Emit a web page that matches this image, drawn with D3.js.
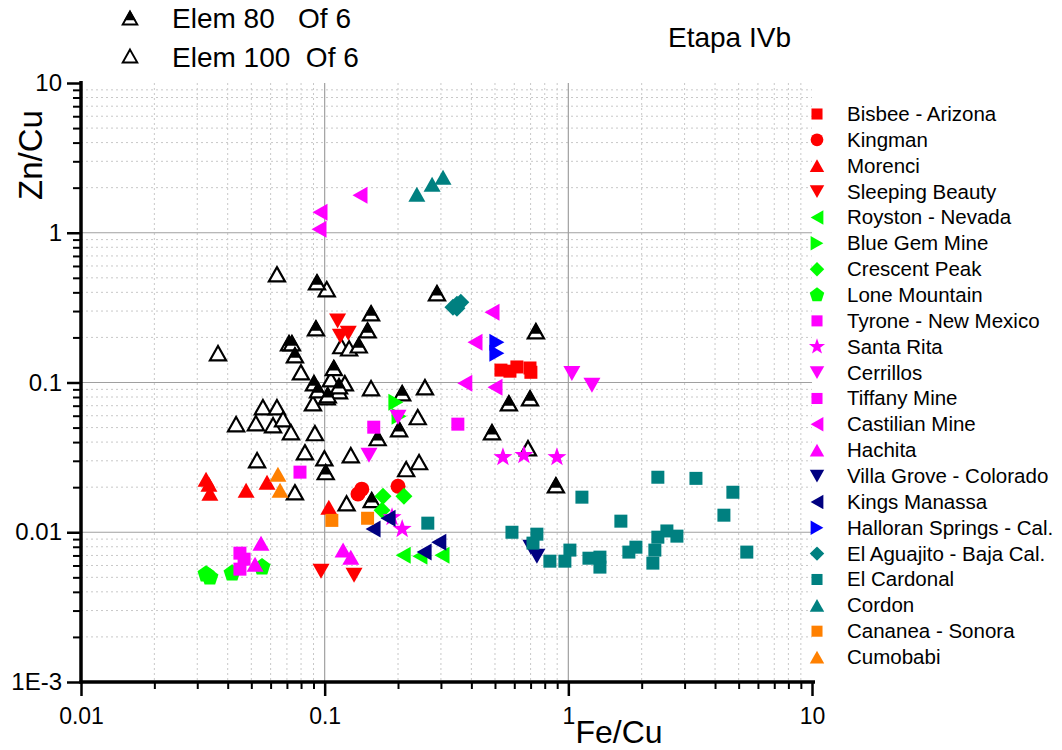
<!DOCTYPE html>
<html>
<head>
<meta charset="utf-8">
<title>Etapa IVb</title>
<script src="https://d3js.org/d3.v7.min.js"></script>
<style>
  body { margin: 0; background: #fff; }
  svg text { font-family: "Liberation Sans", Arial, sans-serif; fill: #000; }
</style>
</head>
<body>
<svg id="chart" width="1062" height="750"></svg>
<script>
// valores: [Fe/Cu, Zn/Cu]
var bisbee = [[0.529,0.121],[0.576,0.119],[0.615,0.127],[0.696,0.125],[0.702,0.117]];
var kingman = [[0.137,0.018],[0.142,0.0194],[0.200,0.0203]];
var morenci = [[0.0326,0.0226],[0.0335,0.0209],[0.0338,0.0182],[0.0476,0.0191],[0.058,0.0216],[0.104,0.0147]];
var sleeping = [[0.113,0.257],[0.116,0.204],[0.125,0.213],[0.0966,0.0055],[0.132,0.00517]];
var royston = [[0.21,0.00703],[0.246,0.00692],[0.303,0.00703]];
var blueGem = [[0.196,0.0739],[0.202,0.0596]];
var crescent = [[0.1735,0.0174],[0.2115,0.0174],[0.172,0.0140]];
var loneMtn = [[0.0326,0.00525],[0.0338,0.00501],[0.0417,0.00533],[0.0553,0.00585]];
var tyrone = [[0.159,0.0503],[0.352,0.0527],[0.0792,0.0252]];
var santaRita = [[0.539,0.0317],[0.657,0.0327],[0.898,0.0317],[0.208,0.0105],[0.189,0.0126]];
var cerrillos = [[1.034,0.115],[1.25,0.0959],[0.200,0.0587],[0.152,0.0327]];
var tiffany = [[0.0449,0.00725],[0.0467,0.00661],[0.0449,0.00567]];
var castilian = [[0.0948,1.055],[0.0957,1.37],[0.1396,1.78],[0.486,0.295],[0.414,0.186],[0.376,0.0989],[0.50,0.093]];
var hachita = [[0.0548,0.00846],[0.0518,0.00612],[0.119,0.0076],[0.128,0.00682]];
var villaGrove = [[0.702,0.00795],[0.743,0.00692]];
var kings = [[0.158,0.0105],[0.182,0.0124],[0.256,0.00737],[0.294,0.00859]];
var halloran = [[0.509,0.186],[0.509,0.157]];
var aguajito = [[0.336,0.318],[0.349,0.333],[0.362,0.344],[0.349,0.313]];
var cardonal = [[0.265,0.0115],[0.587,0.0100],[0.743,0.00971],[0.716,0.00846],[0.84,0.00641],
  [0.968,0.00641],[1.015,0.0076],[1.137,0.01715],[1.215,0.00671],[1.348,0.00682],[1.348,0.00585],
  [1.643,0.01186],[1.772,0.00737],[1.894,0.00795],[2.223,0.00622],[2.265,0.0076],[2.33,0.00927],
  [2.33,0.0233],[2.538,0.0102],[2.79,0.00942],[3.34,0.0229],[4.35,0.0130],[4.735,0.0185],[5.40,0.00737]];
var cordon = [[0.239,1.81],[0.276,2.11],[0.306,2.35]];
var cananea = [[0.107,0.0120],[0.150,0.0124]];
var cumobabi = [[0.0643,0.0244],[0.0656,0.0191]];

var elem80 = [[0.093,0.467],[0.0921,0.230],[0.0714,0.183],[0.0734,0.183],[0.0755,0.152],[0.109,0.125],
  [0.0904,0.0989],[0.0939,0.0888],[0.103,0.0823],[0.1145,0.0945],[0.138,0.177],[0.150,0.223],
  [0.155,0.290],[0.289,0.395],[0.736,0.220],[0.208,0.0848],[0.570,0.0727],[0.696,0.0785],
  [0.486,0.0466],[0.165,0.0425],[0.202,0.0488],[0.101,0.0252],[0.156,0.0164],[0.889,0.0206]];
var elem100 = [[0.0637,0.528],[0.102,0.42],[0.0365,0.157],[0.0799,0.117],[0.106,0.105],[0.121,0.0989],
  [0.1145,0.0875],[0.117,0.175],[0.126,0.169],[0.155,0.0916],[0.258,0.093],[0.0895,0.0727],
  [0.102,0.0798],[0.0558,0.0684],[0.0637,0.0684],[0.0433,0.0527],[0.0522,0.0535],[0.0614,0.0519],
  [0.0675,0.0569],[0.0727,0.0466],[0.0912,0.0459],[0.083,0.0342],[0.0997,0.0312],[0.128,0.0327],
  [0.0528,0.0303],[0.0755,0.0185],[0.123,0.0156],[0.241,0.0587],[0.216,0.0264],[0.244,0.0294],[0.683,0.0364]];

var xTicks = [0.01, 0.1, 1, 10];
var xTickLabels = ["0.01", "0.1", "1", "10"];
var yTicks = [0.001, 0.01, 0.1, 1, 10];
var yTickLabels = ["1E-3", "0.01", "0.1", "1", "10"];

var series = [
  {nome: "Bisbee - Arizona", cor: "#ff0000", forma: "square", dados: bisbee},
  {nome: "Kingman", cor: "#ff0000", forma: "circle", dados: kingman},
  {nome: "Morenci", cor: "#ff0000", forma: "up", dados: morenci},
  {nome: "Sleeping Beauty", cor: "#ff0000", forma: "down", dados: sleeping},
  {nome: "Royston - Nevada", cor: "#00ff00", forma: "left", dados: royston},
  {nome: "Blue Gem Mine", cor: "#00ff00", forma: "right", dados: blueGem},
  {nome: "Crescent Peak", cor: "#00ff00", forma: "diamond", dados: crescent},
  {nome: "Lone Mountain", cor: "#00ff00", forma: "pentagon", dados: loneMtn},
  {nome: "Tyrone - New Mexico", cor: "#ff00ff", forma: "square", dados: tyrone},
  {nome: "Santa Rita", cor: "#ff00ff", forma: "star", dados: santaRita},
  {nome: "Cerrillos", cor: "#ff00ff", forma: "down", dados: cerrillos},
  {nome: "Tiffany Mine", cor: "#ff00ff", forma: "square", dados: tiffany},
  {nome: "Castilian Mine", cor: "#ff00ff", forma: "left", dados: castilian},
  {nome: "Hachita", cor: "#ff00ff", forma: "up", dados: hachita},
  {nome: "Villa Grove - Colorado", cor: "#000080", forma: "down", dados: villaGrove},
  {nome: "Kings Manassa", cor: "#000080", forma: "left", dados: kings},
  {nome: "Halloran Springs - Cal.", cor: "#0000ff", forma: "right", dados: halloran},
  {nome: "El Aguajito - Baja Cal.", cor: "#008080", forma: "diamond", dados: aguajito},
  {nome: "El Cardonal", cor: "#008080", forma: "square", dados: cardonal},
  {nome: "Cordon", cor: "#008080", forma: "up", dados: cordon},
  {nome: "Cananea - Sonora", cor: "#ff8000", forma: "square", dados: cananea},
  {nome: "Cumobabi", cor: "#ff8000", forma: "up", dados: cumobabi}
];

var svg = d3.select("#chart");
var x = d3.scaleLog().domain([0.01, 10]).range([81, 812]);
var y = d3.scaleLog().domain([0.001, 10]).range([682, 83]);

// formas dos marcadores, centradas em 0,0 (k = escala)
function forma(tipo, k) {
  var w = 17 * k, h = 15 * k, s = 13 * k;
  switch (tipo) {
    case "square": return "M" + (-s/2) + "," + (-s/2) + "h" + s + "v" + s + "h" + (-s) + "Z";
    case "circle": var r = 7.5 * k; return "M" + (-r) + ",0a" + r + "," + r + " 0 1,0 " + (2*r) + ",0a" + r + "," + r + " 0 1,0 " + (-2*r) + ",0Z";
    case "up": return "M0," + (-h/2) + "L" + (w/2) + "," + (h/2) + "L" + (-w/2) + "," + (h/2) + "Z";
    case "down": return "M0," + (h/2) + "L" + (w/2) + "," + (-h/2) + "L" + (-w/2) + "," + (-h/2) + "Z";
    case "left": return "M" + (-h/2) + ",0L" + (h/2) + "," + (-w/2) + "L" + (h/2) + "," + (w/2) + "Z";
    case "right": return "M" + (h/2) + ",0L" + (-h/2) + "," + (-w/2) + "L" + (-h/2) + "," + (w/2) + "Z";
    case "diamond": var d = 8.5 * k; return "M0," + (-d) + "L" + d + ",0L0," + d + "L" + (-d) + ",0Z";
    case "pentagon":
      var r5 = 9 * k;
      return d3.range(5).map(function(i) {
        var a = -Math.PI / 2 + i * 2 * Math.PI / 5;
        return (i ? "L" : "M") + (r5 * Math.cos(a)) + "," + (r5 * Math.sin(a));
      }).join("") + "Z";
    case "star":
      var ro = 10 * k, ri = 4 * k;
      return d3.range(10).map(function(i) {
        var a = -Math.PI / 2 + i * Math.PI / 5, r = i % 2 ? ri : ro;
        return (i ? "L" : "M") + (r * Math.cos(a)) + "," + (r * Math.sin(a));
      }).join("") + "Z";
  }
}
// parte de cima preenchida do triângulo "Elem 80"
function topoTriangulo(k) {
  var w = 16 * k, h = 14 * k, f = 0.62;
  return "M0," + (-h/2) + "L" + (w/2*f) + "," + (-h/2 + h*f) + "L" + (-w/2*f) + "," + (-h/2 + h*f) + "Z";
}

// grade secundária (pontilhada)
var minX = [], minY = [];
[0.01, 0.1, 1].forEach(function(b) { for (var i = 2; i <= 9; i++) minX.push(b * i); });
[0.001, 0.01, 0.1, 1].forEach(function(b) { for (var i = 2; i <= 9; i++) minY.push(b * i); });

var grade = svg.append("g");
grade.selectAll("line.mx").data(minX).enter().append("line")
  .attr("x1", d => x(d)).attr("x2", d => x(d)).attr("y1", 83).attr("y2", 682)
  .attr("stroke", "#c8c8c8").attr("stroke-dasharray", "2,3");
grade.selectAll("line.my").data(minY).enter().append("line")
  .attr("y1", d => y(d)).attr("y2", d => y(d)).attr("x1", 81).attr("x2", 812)
  .attr("stroke", "#c8c8c8").attr("stroke-dasharray", "2,3");
// grade principal
grade.selectAll("line.Mx").data([0.1, 1]).enter().append("line")
  .attr("x1", d => x(d)).attr("x2", d => x(d)).attr("y1", 83).attr("y2", 682)
  .attr("stroke", "#a0a0a0").attr("stroke-width", 1.2);
grade.selectAll("line.My").data([0.01, 0.1, 1]).enter().append("line")
  .attr("y1", d => y(d)).attr("y2", d => y(d)).attr("x1", 81).attr("x2", 812)
  .attr("stroke", "#a0a0a0").attr("stroke-width", 1.2);

// eixos
var eixoX = d3.axisBottom(x).tickValues(minX).tickSize(7).tickFormat("");
var eixoY = d3.axisLeft(y).tickValues(minY).tickSize(8).tickFormat("");
svg.append("g").attr("transform", "translate(0,682)").call(eixoX)
  .call(g => g.select(".domain").remove())
  .selectAll("line").attr("stroke-width", 2);
svg.append("g").attr("transform", "translate(81,0)").call(eixoY)
  .call(g => g.select(".domain").remove())
  .selectAll("line").attr("stroke-width", 2);

var eixoXM = d3.axisBottom(x).tickValues(xTicks).tickSize(14).tickPadding(12)
  .tickFormat((d, i) => xTickLabels[i]);
var eixoYM = d3.axisLeft(y).tickValues(yTicks).tickSize(14).tickPadding(5)
  .tickFormat((d, i) => yTickLabels[i]);
svg.append("g").attr("transform", "translate(0,682)").call(eixoXM)
  .call(g => g.select(".domain").remove())
  .call(g => g.selectAll("line").attr("stroke-width", 2.5))
  .selectAll("text").style("font-size", "23px").style("font-family", "Liberation Sans, Arial, sans-serif");
svg.append("g").attr("transform", "translate(81,0)").call(eixoYM)
  .call(g => g.select(".domain").remove())
  .call(g => g.selectAll("line").attr("stroke-width", 2.5))
  .selectAll("text").style("font-size", "24px").style("font-family", "Liberation Sans, Arial, sans-serif");

svg.append("line").attr("x1", 79.5).attr("x2", 815).attr("y1", 682).attr("y2", 682)
  .attr("stroke", "#000").attr("stroke-width", 3.5);
svg.append("line").attr("x1", 81).attr("x2", 81).attr("y1", 81).attr("y2", 683.5)
  .attr("stroke", "#000").attr("stroke-width", 3.5);

// triângulos pretos
var pontos = svg.append("g");
pontos.selectAll("path.e100").data(elem100).enter().append("path")
  .attr("transform", d => "translate(" + x(d[0]) + "," + y(d[1]) + ")")
  .attr("d", forma("up", 0.95)).attr("fill", "#fff").attr("stroke", "#000").attr("stroke-width", 2.2);
var e80 = pontos.selectAll("g.e80").data(elem80).enter().append("g")
  .attr("transform", d => "translate(" + x(d[0]) + "," + y(d[1]) + ")");
e80.append("path").attr("d", forma("up", 0.95)).attr("fill", "#fff").attr("stroke", "#000").attr("stroke-width", 2.2);
e80.append("path").attr("d", topoTriangulo(1)).attr("fill", "#000").attr("stroke", "#000").attr("stroke-width", 1.5);

// séries coloridas
series.forEach(function(s) {
  pontos.selectAll(null).data(s.dados).enter().append("path")
    .attr("transform", d => "translate(" + x(d[0]) + "," + y(d[1]) + ")")
    .attr("d", forma(s.forma, 1)).attr("fill", s.cor);
});

// legenda da direita
var leg = svg.append("g");
var linhas = leg.selectAll("g").data(series).enter().append("g")
  .attr("transform", (d, i) => "translate(817," + (114 + i * 25.86) + ")");
linhas.append("path").attr("d", d => forma(d.forma, 0.85)).attr("fill", d => d.cor);
linhas.append("text").attr("x", 30).attr("y", 7).style("font-size", "20.5px").text(d => d.nome);

// legenda de cima
var topo = svg.append("g");
var l1 = topo.append("g").attr("transform", "translate(130,18)");
l1.append("path").attr("d", forma("up", 0.85)).attr("fill", "#fff").attr("stroke", "#000").attr("stroke-width", 2);
l1.append("path").attr("d", topoTriangulo(0.9)).attr("fill", "#000").attr("stroke", "#000").attr("stroke-width", 1.5);
topo.append("path").attr("transform", "translate(130,56)").attr("d", forma("up", 0.85))
  .attr("fill", "#fff").attr("stroke", "#000").attr("stroke-width", 2);
topo.append("text").attr("x", 172).attr("y", 28).style("font-size", "28px").style("white-space", "pre").text("Elem 80   Of 6");
topo.append("text").attr("x", 172).attr("y", 67).style("font-size", "28px").style("white-space", "pre").text("Elem 100  Of 6");

svg.append("text").attr("x", 668).attr("y", 47).style("font-size", "28px").text("Etapa IVb");
svg.append("text").attr("transform", "translate(42,155) rotate(-90)").attr("text-anchor", "middle")
  .style("font-size", "33px").text("Zn/Cu");
svg.append("text").attr("x", 619).attr("y", 743).attr("text-anchor", "middle")
  .style("font-size", "32px").text("Fe/Cu");
</script>
</body>
</html>
